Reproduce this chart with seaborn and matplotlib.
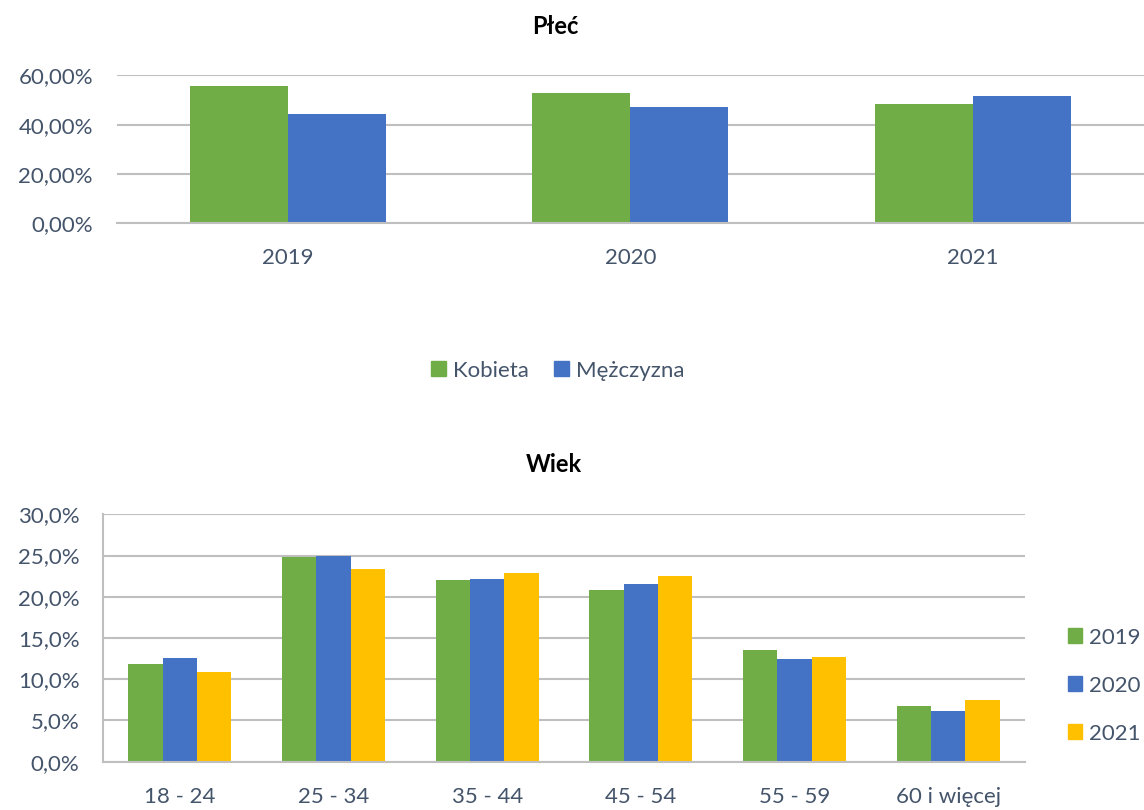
import matplotlib
matplotlib.use("Agg")
import matplotlib.pyplot as plt
from matplotlib.ticker import FuncFormatter, MultipleLocator
from matplotlib.patches import Patch
import seaborn as sns
import pandas as pd

# ---- data ----
years = ["2019", "2020", "2021"]
kobieta = [55.5, 52.7, 48.3]
mezczyzna = [44.5, 47.3, 51.7]

age_groups = ["18 - 24", "25 - 34", "35 - 44", "45 - 54", "55 - 59", "60 i więcej"]
age_2019 = [11.9, 24.8, 22.0, 20.8, 13.5, 6.7]
age_2020 = [12.6, 25.0, 22.2, 21.6, 12.4, 6.1]
age_2021 = [10.9, 23.4, 22.9, 22.5, 12.7, 7.5]

sex_labels = ["Kobieta", "Mężczyzna"]
green, blue, yellow = "#70AD47", "#4472C4", "#FFC000"
txt = "#44546A"
grid_c = "#BFBFBF"

sns.set_theme(style="white")
plt.rcParams["font.family"] = ["Lato", "DejaVu Sans"]

W, H = 1144, 810
fig = plt.figure(figsize=(W / 100, H / 100), dpi=100)

def ax_px(l, t, r, b):
    return fig.add_axes([l / W, 1 - b / H, (r - l) / W, (b - t) / H])

# ---- top chart ----
df_sex = pd.DataFrame({
    "year": years * 2,
    "val": kobieta + mezczyzna,
    "sex": [sex_labels[0]] * 3 + [sex_labels[1]] * 3,
})
ax1 = ax_px(116.5, 75.3, 1144, 223.3)
sns.barplot(data=df_sex, x="year", y="val", hue="sex", order=years,
            hue_order=sex_labels, palette=[green, blue], width=0.571,
            saturation=1, ax=ax1, legend=False, linewidth=0, gap=0)
ax1.set_ylim(0, 60)
ax1.yaxis.set_major_locator(MultipleLocator(20))
ax1.yaxis.set_major_formatter(FuncFormatter(lambda v, p: f"{v:.2f}".replace(".", ",") + "%"))
ax1.grid(axis="y", color=grid_c, linewidth=1.5)
ax1.set_axisbelow(True)
for s in ["top", "right", "left"]:
    ax1.spines[s].set_visible(False)
ax1.spines["bottom"].set_color(grid_c)
ax1.spines["bottom"].set_linewidth(1.5)
ax1.set_xlabel("")
ax1.set_ylabel("")
ax1.tick_params(axis="both", length=0, colors=txt, labelsize=16)
ax1.tick_params(axis="x", pad=18)
ax1.tick_params(axis="y", pad=17)
fig.text(555 / W, 1 - 27 / H, "Płeć", ha="center", va="center",
         fontsize=17, fontweight="bold", color="black")
fig.legend(handles=[Patch(color=green, label=sex_labels[0]),
                    Patch(color=blue, label=sex_labels[1])],
           loc="center", bbox_to_anchor=(558 / W, 1 - 370.5 / H), ncol=2,
           frameon=False, fontsize=16, labelcolor=txt, handlelength=0.65,
           handleheight=0.65, handletextpad=0.33, columnspacing=1.15,
           borderpad=0)

# ---- bottom chart ----
df_age = pd.DataFrame({
    "age": age_groups * 3,
    "val": age_2019 + age_2020 + age_2021,
    "year": ["2019"] * 6 + ["2020"] * 6 + ["2021"] * 6,
})
ax2 = ax_px(103, 514.3, 1025, 761.7)
sns.barplot(data=df_age, x="age", y="val", hue="year", order=age_groups,
            hue_order=years, palette=[green, blue, yellow], width=0.67,
            saturation=1, ax=ax2, legend=False, linewidth=0, gap=0)
ax2.set_ylim(0, 30)
ax2.yaxis.set_major_locator(MultipleLocator(5))
ax2.yaxis.set_major_formatter(FuncFormatter(lambda v, p: f"{v:.1f}".replace(".", ",") + "%"))
ax2.grid(axis="y", color=grid_c, linewidth=1.5)
ax2.set_axisbelow(True)
for s in ["top", "right"]:
    ax2.spines[s].set_visible(False)
for s in ["bottom", "left"]:
    ax2.spines[s].set_color(grid_c)
    ax2.spines[s].set_linewidth(1.5)
ax2.set_xlabel("")
ax2.set_ylabel("")
ax2.tick_params(axis="both", length=0, colors=txt, labelsize=16)
ax2.tick_params(axis="x", pad=18)
ax2.tick_params(axis="y", pad=17)
fig.text(554 / W, 1 - 465 / H, "Wiek", ha="center", va="center",
         fontsize=17, fontweight="bold", color="black")
fig.legend(handles=[Patch(color=c, label=y) for c, y in zip([green, blue, yellow], years)],
           loc="center left", bbox_to_anchor=(1067.5 / W, 1 - 685.5 / H), ncol=1,
           frameon=False, fontsize=16, labelcolor=txt, handlelength=0.65,
           handleheight=0.65, handletextpad=0.3, labelspacing=1.26,
           borderpad=0, borderaxespad=0)

fig.savefig("out.png", dpi=100, facecolor="white")
